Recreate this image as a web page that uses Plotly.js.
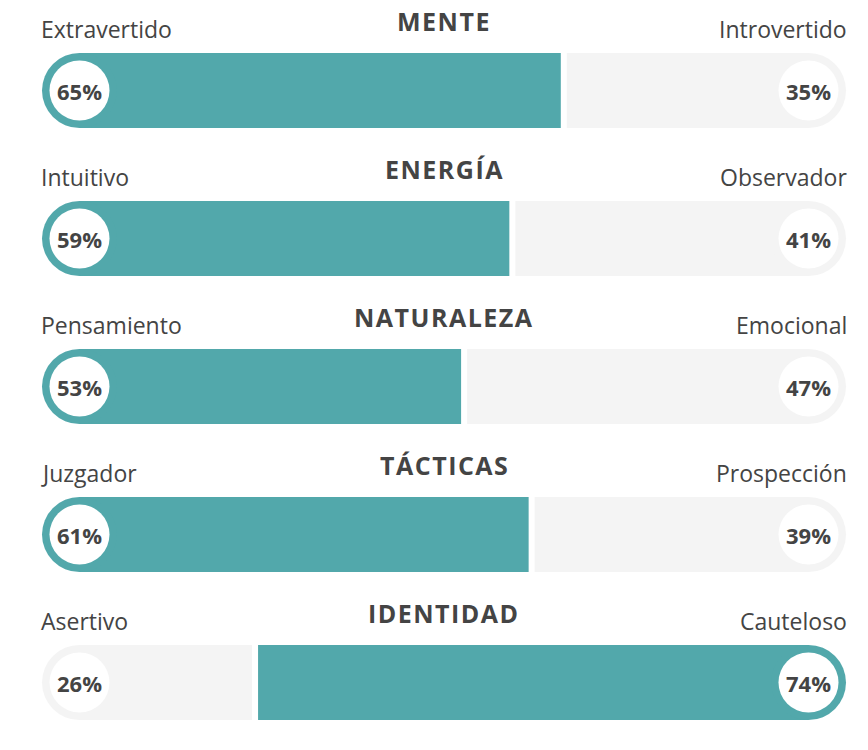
<!DOCTYPE html>
<html>
<head>
<meta charset="utf-8">
<script src="https://cdn.plot.ly/plotly-3.0.1.min.js"></script>
<style>
html,body{margin:0;padding:0;background:#fff;}
#chart{width:868px;height:750px;}
</style>
</head>
<body>
<div id="chart"></div>
<script>
// ---- data ----
var titles = ['MENTE', 'ENERGÍA', 'NATURALEZA', 'TÁCTICAS', 'IDENTIDAD'];
var leftLabels = ['Extravertido', 'Intuitivo', 'Pensamiento', 'Juzgador', 'Asertivo'];
var rightLabels = ['Introvertido', 'Observador', 'Emocional', 'Prospección', 'Cauteloso'];
var leftPct = [65, 59, 53, 61, 26];
var rightPct = [35, 41, 47, 39, 74];
// where the split between the two segments sits on the 0-100 scale (as drawn)
var splitPos = [64.9, 58.5, 52.5, 60.9, 26.5];

// ---- styling ----
var TEAL = '#52a8ab';
var GRAY = '#f4f4f4';
var TEXT = '#444444';
var W = 868, H = 750;
var X0PX = 42, X1PX = 846;         // bar extent in pixels
var pxPerUnit = (X1PX - X0PX) / 100;
var ROW0 = 90.5, ROWSTEP = 148;     // row centre pixels
var BARPX = 75;
var r = (BARPX / 2) / pxPerUnit;    // radius of rounded end in data units
var halfGap = 3 / pxPerUnit;

var rows = titles.map(function (_, i) { return i; });

var leftColors = [], rightColors = [];
var lb = [], lx = [], rb = [], rx = [];
for (var i = 0; i < rows.length; i++) {
  var leftBig = leftPct[i] >= rightPct[i];
  leftColors.push(leftBig ? TEAL : GRAY);
  rightColors.push(leftBig ? GRAY : TEAL);
  lb.push(r);
  lx.push(splitPos[i] - halfGap - r);
  rb.push(splitPos[i] + halfGap);
  rx.push(100 - r - (splitPos[i] + halfGap));
}

var traces = [
  {type: 'bar', orientation: 'h', y: rows, base: lb, x: lx, width: BARPX / ROWSTEP,
   marker: {color: leftColors, line: {width: 0}}, hoverinfo: 'skip'},
  {type: 'bar', orientation: 'h', y: rows, base: rb, x: rx, width: BARPX / ROWSTEP,
   marker: {color: rightColors, line: {width: 0}}, hoverinfo: 'skip'},
  {type: 'scatter', mode: 'markers', x: rows.map(function () { return r; }), y: rows,
   marker: {size: BARPX, color: leftColors, line: {width: 0}}, hoverinfo: 'skip'},
  {type: 'scatter', mode: 'markers', x: rows.map(function () { return 100 - r; }), y: rows,
   marker: {size: BARPX, color: rightColors, line: {width: 0}}, hoverinfo: 'skip'},
  {type: 'scatter', mode: 'markers', x: rows.map(function () { return r; }), y: rows,
   marker: {size: 60, color: '#ffffff', line: {width: 0}}, hoverinfo: 'skip'},
  {type: 'scatter', mode: 'markers', x: rows.map(function () { return 100 - r; }), y: rows,
   marker: {size: 60, color: '#ffffff', line: {width: 0}}, hoverinfo: 'skip'}
];

var ann = [];
for (var j = 0; j < rows.length; j++) {
  ann.push({x: 50, y: j, xref: 'x', yref: 'y', yshift: 70, xanchor: 'center', yanchor: 'middle',
    text: '<span style="letter-spacing:1.5px">' + titles[j] + '</span>', showarrow: false,
    font: {family: 'Open Sans', size: 25, color: TEXT, weight: 700}});
  ann.push({x: 0, y: j, xref: 'x', yref: 'y', yshift: 61.5, xshift: -3, xanchor: 'left', yanchor: 'middle',
    text: leftLabels[j], showarrow: false,
    font: {family: 'Open Sans', size: 23, color: TEXT}});
  ann.push({x: 100, y: j, xref: 'x', yref: 'y', yshift: 61.5, xshift: 3, xanchor: 'right', yanchor: 'middle',
    text: rightLabels[j], showarrow: false,
    font: {family: 'Open Sans', size: 23, color: TEXT}});
  ann.push({x: r, y: j, xref: 'x', yref: 'y', xanchor: 'center', yanchor: 'middle',
    text: leftPct[j] + '%', showarrow: false,
    font: {family: 'Open Sans', size: 22, color: TEXT, weight: 700}});
  ann.push({x: 100 - r, y: j, xref: 'x', yref: 'y', xanchor: 'center', yanchor: 'middle',
    text: rightPct[j] + '%', showarrow: false,
    font: {family: 'Open Sans', size: 22, color: TEXT, weight: 700}});
}

var layout = {
  width: W, height: H,
  margin: {l: 0, r: 0, t: 0, b: 0, pad: 0},
  paper_bgcolor: '#ffffff', plot_bgcolor: '#ffffff',
  showlegend: false,
  barmode: 'overlay',
  xaxis: {range: [-X0PX / pxPerUnit, (W - X0PX) / pxPerUnit], visible: false, fixedrange: true},
  yaxis: {range: [(H - ROW0) / ROWSTEP, -ROW0 / ROWSTEP], visible: false, fixedrange: true},
  annotations: ann
};

Plotly.newPlot('chart', traces, layout, {staticPlot: true, displayModeBar: false});
</script>
</body>
</html>
